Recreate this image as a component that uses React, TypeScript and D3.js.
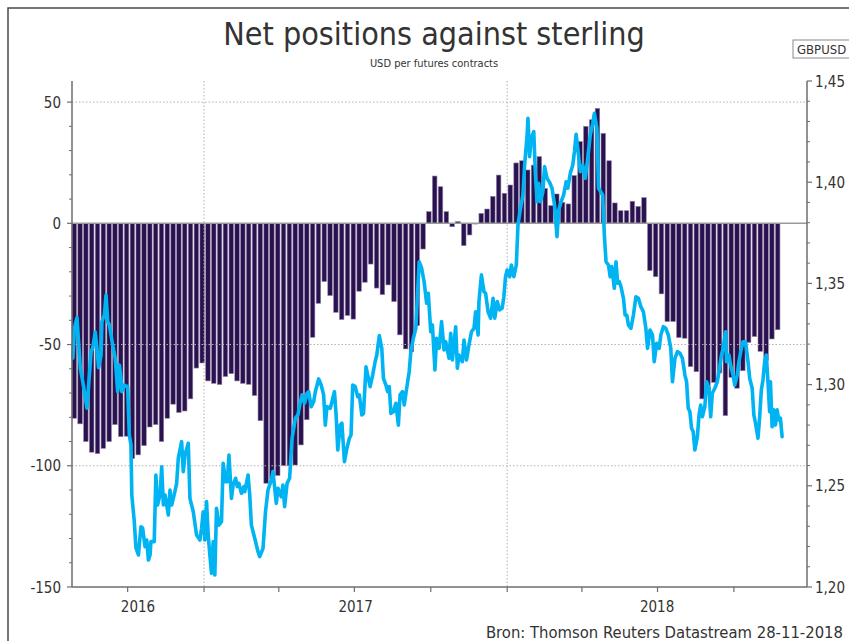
import React from 'react';
import * as d3 from 'd3';

// Weekly net positions (CFTC, Tuesdays) starting 2016-07-26
const barStart = '2016-07-26';
const barValues = [
  -80.4, -82.7, -90, -94.4, -95, -92.8, -90, -83, -88, -87.8,
  -97, -95.5, -91.7, -84, -83, -90, -80.4, -74.6, -78, -77.4,
  -72.4, -59.7, -57.6, -65, -66, -66.5, -63.2, -62, -65, -66,
  -66.4, -71, -81.4, -107.2, -105.4, -104, -100, -100, -99.7, -91.4,
  -81, -47, -33, -24, -29.8, -36.7, -39.7, -38, -39.5, -28,
  -24.3, -16.8, -26.7, -29.4, -25.4, -32.3, -46, -51.8, -53, -42.2,
  -10.6,
  4.8, 19.5, 15.1, 4.8, -1.4, 0.7, -9.2, -4.8, -0.3, 4.1,
  5.9, 11.1, 19.9, 12.4, 15.8, 24.9, 25.8, 22, 24, 27.5,
  14.4, 7.3, 12.1, 8.7, 8, 19.7, 33.7, 40, 42.7, 47.4,
  37.1, 25.8, 8.4, 5.2, 5.2, 9.1, 7, 10.6, -19.5, -22,
  -29.1, -40.5, -40.5, -47.1, -47.4, -59.1, -61.2, -72.4, -69, -65.6,
  -61.7, -79.3, -63.5, -68, -60.8, -49.1, -46.7, -52.8, -56.6, -47.7,
  -43.9,
];

// GBPUSD: days after barStart and values
const gbpDays = [
  1, 3, 6, 8, 10, 13, 18, 23, 25, 28, 30, 32, 35, 36, 39, 41, 43, 45, 49, 52,
  55, 57, 59, 60, 63, 67, 69, 71, 72, 75, 77, 80, 83, 85, 88, 90, 92, 94, 95, 99,
  101, 103, 106, 108, 110, 112, 116, 118, 120, 123, 126, 128, 132, 134, 136, 140, 142, 146, 150, 154,
  156, 158, 160, 162, 164, 166, 168, 170, 172, 174, 177, 180, 182, 185, 187, 189, 192, 194, 197, 199,
  201, 204, 207,
  208, 212, 214, 216, 220, 224, 226, 230, 233, 236, 240, 242, 246, 248, 252, 254, 256, 259, 262, 265,
  269, 272, 275, 277, 280, 283, 285, 288, 291, 293, 297, 300, 303, 305, 307, 311, 313, 316, 318, 320,
  323, 325, 328, 331, 334, 336, 338, 341, 344, 346, 349, 351, 354, 356, 359, 362, 365, 367, 370, 373,
  375, 378, 380, 382, 384, 387, 390, 393, 395, 398, 400, 403, 406, 408, 411, 414, 416, 418, 421, 424,
  427, 429, 432, 434, 437, 439, 442, 445, 448, 450, 454, 456, 458, 462, 464, 466, 470, 472, 475, 478,
  481, 484, 486, 489, 490, 493, 496, 498, 501, 504, 507, 509, 512, 515, 518, 520, 522, 524, 527, 529,
  532, 535, 537, 540, 543, 545, 548, 549, 551, 553, 556, 558, 560, 562, 564, 567, 569, 572, 575, 578,
  581, 584, 586, 589, 592, 595, 597, 600, 603, 605, 607, 609, 612, 615, 618, 621, 624, 627, 629, 632,
  634,
  639, 641, 643, 646, 648, 650, 653, 655, 657, 659, 661, 664, 666, 668, 670, 673, 676, 679, 682, 685,
  688, 691, 693, 696, 699, 701, 704, 707, 709, 712, 715, 718, 721, 723, 726, 729, 732, 735, 738, 740,
  742, 744, 746, 748, 750, 753, 755, 757, 759, 762, 764, 767, 769, 771, 774, 777, 779, 782, 784, 787,
  788, 791, 793, 796, 798, 801, 803, 806, 808, 811, 814, 816, 819, 821, 823, 826, 828, 830, 832, 834,
  836, 838, 840, 841, 843, 845, 847, 849, 851, 853, 855,
];
const gbpValues = [
  1.3131, 1.3280, 1.3331, 1.3206, 1.3082, 1.3014, 1.2884, 1.3163, 1.3181, 1.3260,
  1.3181, 1.3084, 1.3146, 1.3311, 1.3344, 1.3443, 1.3311, 1.3294, 1.3196, 1.3131,
  1.2965, 1.3097, 1.3033, 1.2965, 1.2998, 1.2990, 1.2751, 1.2702, 1.2455, 1.2323,
  1.2193, 1.2158, 1.2298, 1.2292, 1.2199, 1.2232, 1.2133, 1.2158, 1.2224, 1.2224,
  1.2553, 1.2405, 1.2455, 1.2594, 1.2405, 1.2455, 1.2356, 1.2479, 1.2405, 1.2455,
  1.2512, 1.2637, 1.2718, 1.2570, 1.2652, 1.2710, 1.2438, 1.2372, 1.2257, 1.2232,
  1.2290, 1.2372, 1.2232, 1.2422, 1.2257, 1.2158, 1.2068, 1.2224, 1.2059, 1.2389,
  1.2306, 1.2323, 1.2611, 1.2520, 1.2520, 1.2652, 1.2438, 1.2504, 1.2537, 1.2496,
  1.2512, 1.2463, 1.2496,
  1.2471, 1.2553, 1.2455, 1.2306, 1.2241, 1.2174, 1.2150, 1.2191, 1.2372, 1.2479,
  1.2529, 1.2570, 1.2413, 1.2488, 1.2446, 1.2504, 1.2397, 1.2512, 1.2537, 1.2735,
  1.2834, 1.2850, 1.2916, 1.2949, 1.2908, 1.2957, 1.2965, 1.2891, 1.2916, 1.2965,
  1.3028, 1.2998, 1.2949, 1.2800, 1.2891, 1.2883, 1.2916, 1.2965, 1.2850, 1.2677,
  1.2800, 1.2809, 1.2619, 1.2685, 1.2735, 1.2751, 1.2998, 1.2990, 1.2940, 1.2949,
  1.2850, 1.2858, 1.3088, 1.3047, 1.2990, 1.3047, 1.3113, 1.3146, 1.3242, 1.3179,
  1.3031, 1.2998, 1.2965, 1.2990, 1.2858, 1.2866, 1.2908, 1.2800, 1.2949, 1.2965,
  1.2899, 1.2982, 1.3064, 1.3163, 1.3229, 1.3278, 1.3443, 1.3607, 1.3575, 1.3508,
  1.3402, 1.3451, 1.3261, 1.3294, 1.3072, 1.3229, 1.3179, 1.3311, 1.3171, 1.3212,
  1.3130, 1.3253, 1.3122, 1.3286, 1.3081, 1.3146, 1.3113, 1.3220, 1.3122, 1.3196,
  1.3261, 1.3278, 1.3360, 1.3245, 1.3410, 1.3542, 1.3459, 1.3451, 1.3360, 1.3328,
  1.3426, 1.3328, 1.3410, 1.3369, 1.3378, 1.3434, 1.3533, 1.3566, 1.3533, 1.3591,
  1.3533, 1.3591, 1.3789, 1.3871, 1.3937, 1.4085, 1.4233, 1.4316, 1.4126, 1.4217,
  1.4250, 1.4036, 1.3904, 1.3995, 1.3904, 1.3953, 1.4077, 1.4019, 1.4000, 1.3970,
  1.3887, 1.3731, 1.3863, 1.3904, 1.3937, 1.4002, 1.3970, 1.4044, 1.4085, 1.4151,
  1.4237, 1.4167, 1.4052, 1.4085, 1.4019, 1.4118, 1.4233, 1.4291, 1.4340, 1.4266,
  1.3970,
  1.3937, 1.3739, 1.3607, 1.3591, 1.3533, 1.3583, 1.3476, 1.3607, 1.3501, 1.3508,
  1.3484, 1.3426, 1.3344, 1.3344, 1.3294, 1.3278, 1.3344, 1.3434, 1.3426, 1.3385,
  1.3360, 1.3278, 1.3179, 1.3270, 1.3245, 1.3113, 1.3204, 1.3179, 1.3245, 1.3286,
  1.3278, 1.3245, 1.3179, 1.3014, 1.3130, 1.3163, 1.3155, 1.3130, 1.3047, 1.3014,
  1.2883, 1.2866, 1.2784, 1.2767, 1.2677, 1.2743, 1.2850, 1.2899, 1.2841, 1.2891,
  1.3014, 1.2982, 1.2841, 1.2957, 1.2982, 1.3014, 1.3064, 1.3146, 1.3179, 1.3261,
  1.3113, 1.3146, 1.3097, 1.3047, 1.2998, 1.3047, 1.3113, 1.3179, 1.3212, 1.3212,
  1.3113, 1.3031, 1.2982, 1.2850, 1.2809, 1.2735, 1.2841, 1.2973, 1.3023, 1.3113,
  1.3146, 1.3014, 1.2866, 1.3014, 1.2792, 1.2875, 1.2800, 1.2875, 1.2825, 1.2834,
  1.2743,
];

const leftTicks = [50, 0, -50, -100, -150];
const rightTicks = [1.45, 1.4, 1.35, 1.3, 1.25, 1.2];
const years = [2016, 2017, 2018];
const titleText = 'Net positions against sterling';
const subtitleText = 'USD per futures contracts';
const seriesLabel = 'GBPUSD';
const sourceText = 'Bron: Thomson Reuters Datastream 28-11-2018';

const FONT = "'DejaVu Sans Condensed', 'DejaVu Sans', sans-serif";

export default function App() {
  const W = 849, H = 641;
  const left = 72, right = 807, top = 81, bottom = 587;
  const start = d3.timeParse('%Y-%m-%d')(barStart) as Date;
  const end = new Date(2018, 11, 28);
  const x = d3.scaleTime().domain([start, end]).range([left, right]);
  const yL = d3.scaleLinear().domain([-150, 58.7]).range([bottom, top]);
  const yR = d3.scaleLinear().domain([1.2, 1.45]).range([bottom, top]);
  const day = (n: number) => d3.timeDay.offset(start, n);

  const bars = barValues.map((v, i) => {
    const d0 = day(i * 7), d1 = day(i * 7 + 7);
    return {
      x: x(d0),
      w: x(d1) - x(d0) - 1.3,
      y: yL(Math.max(0, v)),
      h: Math.abs(yL(v) - yL(0)),
    };
  });

  const line = d3.line<[number, number]>().x(d => d[0]).y(d => d[1]);
  const pts: [number, number][] = gbpDays.map((d, i) => [x(day(d)), yR(gbpValues[i])]);
  const path = line(pts) || '';

  const leftMinor = d3.range(-140, 58, 10).filter(v => v % 50 !== 0);
  const rightMinor = d3.range(1.2, 1.4501, 0.01).filter(v => Math.abs(Math.round(v * 20) - v * 20) > 0.01);
  const qTicks = x.ticks(d3.timeMonth.every(3) as any);
  const yearGrid = [2017, 2018].map(y => x(new Date(y, 0, 1)));
  const fmtR = (v: number) => v.toFixed(2).replace('.', ',');

  const axisColor = '#6e6e6e';
  const textColor = '#333333';

  return (
    <svg width={W} height={H} style={{ position: 'absolute', left: 0, top: 0, display: 'block' }} fontFamily={FONT}>
      <rect x={0} y={0} width={W} height={H} fill="#ffffff" />
      {/* outer frame */}
      <rect x={8} y={8} width={W + 20} height={H + 20} fill="none" stroke="#4a4a4a" strokeWidth={1.5} />

      {/* title */}
      <text x={434} y={45} textAnchor="middle" fontSize={32} fill={textColor}>{titleText}</text>
      <text x={434} y={67} textAnchor="middle" fontSize={11} fill={textColor}>{subtitleText}</text>

      {/* series label box */}
      <rect x={793} y={40} width={70} height={18} fill="#fff" stroke="#8a8a8a" strokeWidth={1} />
      <text x={797} y={54} fontSize={13} fill={textColor}>{seriesLabel}</text>

      {/* bars */}
      <g>
        {bars.map((b, i) => (
          <rect key={i} x={b.x} y={b.y} width={b.w} height={b.h} fill="#2b1150" stroke="#8d83a5" strokeWidth={0.6} />
        ))}
      </g>

      {/* gridlines */}
      {[50, -50, -100].map(v => (
        <line key={v} x1={left} x2={right} y1={yL(v)} y2={yL(v)} stroke="#b0b0b0" strokeWidth={1} strokeDasharray="1.5,2" />
      ))}
      {yearGrid.map((gx, i) => (
        <line key={i} x1={gx} x2={gx} y1={top} y2={bottom} stroke="#b0b0b0" strokeWidth={1} strokeDasharray="1.5,2" />
      ))}
      {/* zero line */}
      <line x1={left} x2={right} y1={yL(0)} y2={yL(0)} stroke="#9a9a9a" strokeWidth={1.6} />

      {/* GBPUSD line */}
      <path d={path} fill="none" stroke="#00b3f2" strokeWidth={3.6} strokeLinejoin="round" strokeLinecap="round" />

      {/* left axis */}
      <line x1={left} x2={left} y1={top} y2={bottom} stroke={axisColor} strokeWidth={1.5} />
      {leftTicks.map(v => (
        <g key={v}>
          <line x1={left - 5} x2={left} y1={yL(v)} y2={yL(v)} stroke={axisColor} strokeWidth={1.2} />
          <text x={61} y={yL(v) + 5.5} textAnchor="end" fontSize={15} fill={textColor}>{v}</text>
        </g>
      ))}
      {leftMinor.map(v => (
        <line key={v} x1={left - 3} x2={left} y1={yL(v)} y2={yL(v)} stroke={axisColor} strokeWidth={1} />
      ))}

      {/* right axis */}
      <line x1={right} x2={right} y1={top} y2={bottom} stroke={axisColor} strokeWidth={1.5} />
      {rightTicks.map(v => (
        <g key={v}>
          <line x1={right} x2={right + 5} y1={yR(v)} y2={yR(v)} stroke={axisColor} strokeWidth={1.2} />
          <text x={815} y={yR(v) + 5.5} fontSize={15} fill={textColor}>{fmtR(v)}</text>
        </g>
      ))}
      {rightMinor.map((v, i) => (
        <line key={i} x1={right} x2={right + 3} y1={yR(v)} y2={yR(v)} stroke={axisColor} strokeWidth={1} />
      ))}

      {/* bottom axis */}
      <line x1={left} x2={right} y1={bottom} y2={bottom} stroke={axisColor} strokeWidth={1.5} />
      {qTicks.map((d, i) => (
        <line key={i} x1={x(d)} x2={x(d)} y1={bottom} y2={bottom + 5} stroke={axisColor} strokeWidth={1.2} />
      ))}
      {years.map(yr => {
        const a = Math.max(left, x(new Date(yr, 0, 1)));
        const b = Math.min(right, x(new Date(yr + 1, 0, 1)));
        return (
          <text key={yr} x={(a + b) / 2} y={612} textAnchor="middle" fontSize={15} fill={textColor}>{yr}</text>
        );
      })}

      {/* source */}
      <text x={843} y={638} textAnchor="end" fontSize={16.5} fill={textColor}>{sourceText}</text>
    </svg>
  );
}
